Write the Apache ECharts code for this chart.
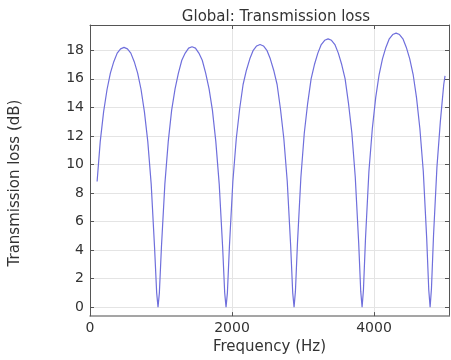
<!DOCTYPE html>
<html>
<head>
<meta charset="utf-8">
<script src="https://cdn.jsdelivr.net/npm/echarts@6/dist/echarts.min.js"></script>
<style>
html,body{margin:0;padding:0;background:#fff;}
#chart{width:451px;height:360px;}
</style>
</head>
<body>
<div id="chart"></div>
<script>
// Frequency (Hz) samples
var frequency = [
  100,144,192,240,287,335,383,431,479,527,575,623,671,719,766,814,862,910,939,958,
  977,1006,1054,1102,1150,1198,1245,1293,1341,1389,1437,1485,1533,1581,1629,1677,1724,1772,1820,1868,1897,1916,
  1935,1964,2012,2060,2108,2156,2203,2251,2299,2347,2395,2443,2491,2539,2587,2635,2682,2730,2778,2826,2855,2874,
  2893,2922,2970,3018,3066,3114,3161,3209,3257,3305,3353,3401,3449,3497,3545,3593,3640,3688,3736,3784,3813,3832,
  3851,3880,3928,3976,4024,4072,4119,4167,4215,4263,4311,4359,4407,4455,4503,4551,4598,4646,4694,4742,4771,4790,
  4809,4838,4886,4934,4982,5000
];
// Transmission loss (dB)
var transmissionLoss = [
  8.8,11.6,13.7,15.25,16.4,17.2,17.8,18.1,18.2,18.1,17.8,17.2,16.4,15.25,13.7,11.6,8.6,4.1,1.0,0,
  1.0,4.2,8.6,11.6,13.8,15.3,16.4,17.3,17.8,18.15,18.25,18.15,17.8,17.3,16.4,15.3,13.8,11.6,8.6,4.2,1.0,0,
  1.0,4.3,8.8,11.8,13.9,15.6,16.6,17.4,18.0,18.3,18.4,18.3,18.0,17.4,16.6,15.6,13.9,11.8,8.8,4.3,1.0,0,
  1.1,4.5,9.1,12.2,14.3,16.0,17.0,17.8,18.4,18.7,18.8,18.7,18.4,17.8,17.0,16.0,14.3,12.2,9.1,4.5,1.1,0,
  1.2,4.8,9.5,12.5,14.7,16.3,17.4,18.2,18.8,19.1,19.2,19.1,18.8,18.2,17.4,16.3,14.7,12.5,9.5,4.8,1.2,0,
  1.3,5.0,9.8,13.0,15.6,16.2
];
var xTicks = [0, 2000, 4000];
var yTicks = [0, 2, 4, 6, 8, 10, 12, 14, 16, 18];

var points = frequency.map(function (f, i) { return [f, transmissionLoss[i]]; });

var X_MIN = 0, X_MAX = 5056, Y_MIN = -0.63, Y_MAX = 19.77;
var axisColor = '#555';
var gridColor = '#e4e4e4';
var textColor = '#333';
var fontFam = 'DejaVu Sans, sans-serif';
var plain = function (v) { return String(v); };

var chart = echarts.init(document.getElementById('chart'));
chart.setOption({
  backgroundColor: '#fff',
  animation: false,
  title: {
    text: 'Global: Transmission loss',
    left: 271, top: 5, textAlign: 'center',
    textStyle: { fontFamily: fontFam, fontSize: 15, fontWeight: 'normal', color: textColor }
  },
  graphic: [{
    type: 'text',
    x: 15, y: 183,
    rotation: Math.PI / 2,
    style: {
      text: 'Transmission loss (dB)',
      fontFamily: fontFam, fontSize: 15, fill: textColor,
      align: 'center', verticalAlign: 'middle'
    }
  }],
  grid: { left: 90, top: 25, right: 2, bottom: 38, show: false },
  xAxis: [{
    type: 'value', min: X_MIN, max: X_MAX, position: 'bottom',
    name: 'Frequency (Hz)', nameLocation: 'middle', nameGap: 20,
    nameTextStyle: { fontFamily: fontFam, fontSize: 15, color: textColor },
    axisLine: { show: true, onZero: false, lineStyle: { color: '#888', width: 1.5 } },
    axisTick: { show: true, inside: true, length: 4, customValues: xTicks, lineStyle: { color: axisColor } },
    axisLabel: { customValues: xTicks, formatter: plain, fontFamily: fontFam, fontSize: 14, color: textColor, margin: 5 },
    splitLine: { show: true, lineStyle: { color: gridColor, width: 1 } }
  }, {
    type: 'value', min: X_MIN, max: X_MAX, position: 'top',
    axisLine: { show: true, onZero: false, lineStyle: { color: axisColor, width: 1 } },
    axisTick: { show: true, inside: true, length: 4, customValues: xTicks, lineStyle: { color: axisColor } },
    axisLabel: { show: false },
    splitLine: { show: false }
  }],
  yAxis: [{
    type: 'value', min: Y_MIN, max: Y_MAX, position: 'left',
    axisLine: { show: true, onZero: false, lineStyle: { color: axisColor, width: 1 } },
    axisTick: { show: true, inside: true, length: 4, customValues: yTicks, lineStyle: { color: axisColor } },
    axisLabel: { customValues: yTicks, formatter: plain, fontFamily: fontFam, fontSize: 14, color: textColor, margin: 6 },
    splitLine: { show: true, lineStyle: { color: gridColor, width: 1 } }
  }, {
    type: 'value', min: Y_MIN, max: Y_MAX, position: 'right',
    axisLine: { show: true, onZero: false, lineStyle: { color: axisColor, width: 1 } },
    axisTick: { show: true, inside: true, length: 4, customValues: yTicks, lineStyle: { color: axisColor } },
    axisLabel: { show: false },
    splitLine: { show: false }
  }],
  series: [{
    type: 'line',
    data: points,
    xAxisIndex: 0, yAxisIndex: 0,
    showSymbol: false,
    smooth: false,
    lineStyle: { color: '#6f6fdc', width: 1.2 },
    itemStyle: { color: '#6f6fdc' }
  }]
});
</script>
</body>
</html>
